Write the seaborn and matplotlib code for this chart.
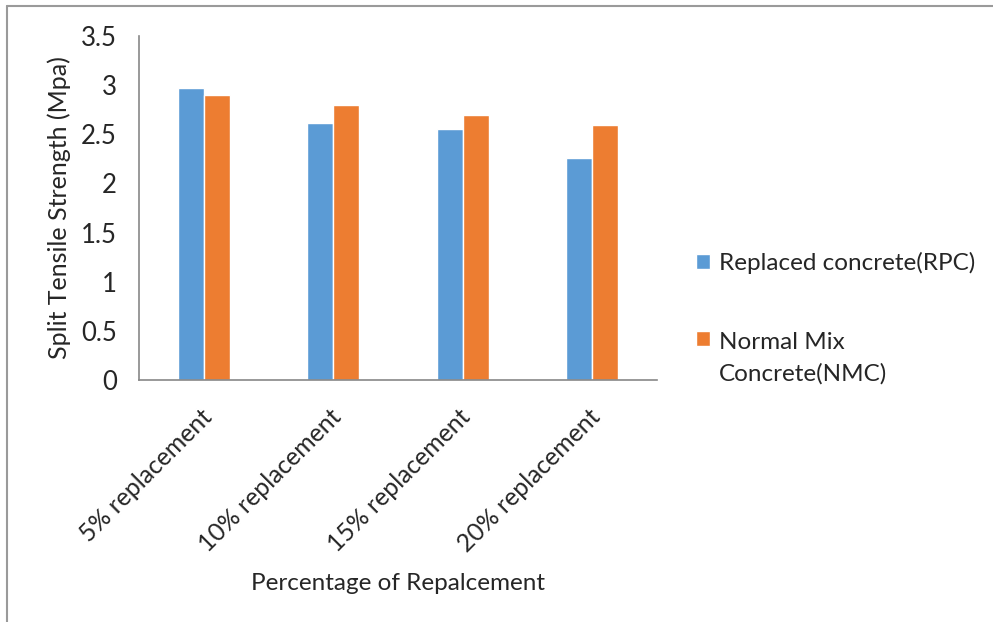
import matplotlib
matplotlib.use("Agg")
import matplotlib.pyplot as plt
import matplotlib.transforms as mtransforms
from matplotlib.lines import Line2D
import seaborn as sns
import pandas as pd

# data
categories = ["5% replacement", "10% replacement", "15% replacement", "20% replacement"]
rpc = [2.97, 2.62, 2.55, 2.26]
nmc = [2.90, 2.80, 2.70, 2.60]
series = ["Replaced concrete(RPC)", "Normal Mix\nConcrete(NMC)"]
yticks = [0, 0.5, 1, 1.5, 2, 2.5, 3, 3.5]
ytick_labels = ["0", "0.5", "1", "1.5", "2", "2.5", "3", "3.5"]

df = pd.DataFrame({
    "category": categories * 2,
    "value": rpc + nmc,
    "series": [series[0]] * 4 + [series[1]] * 4,
})

sns.set_style("white")
plt.rcParams["font.family"] = ["Lato", "DejaVu Sans"]

fig = plt.figure(figsize=(9.93, 6.22), dpi=100)
ax = fig.add_axes([0.140, 0.389, 0.5216, 0.553])

sns.barplot(data=df, x="category", y="value", hue="series",
            palette=["#5B9BD5", "#ED7D31"], width=0.4, saturation=1,
            ax=ax, legend=True)

ax.set_ylim(0, 3.5)
ax.set_yticks(yticks)
ax.set_yticklabels(ytick_labels)
ax.set_xlim(-0.5, 3.5)
ax.set_xticks(range(len(categories)))
ax.set_xticklabels(categories, rotation=45, ha="right", rotation_mode="anchor")
ax.tick_params(axis="y", direction="out", length=6, width=1, color="#888888",
               labelsize=18.5, pad=10)
ax.tick_params(axis="x", length=0, labelsize=17.8, pad=18)

# nudge rotated labels so their ends sit like the reference
offset = mtransforms.ScaledTranslation(-4 / 100, 0, fig.dpi_scale_trans)
for lbl in ax.get_xticklabels():
    lbl.set_transform(lbl.get_transform() + offset)

for s in ["top", "right"]:
    ax.spines[s].set_visible(False)
for s in ["left", "bottom"]:
    ax.spines[s].set_color("#888888")
    ax.spines[s].set_linewidth(1.2)

ax.set_xlabel("Percentage of Repalcement", fontsize=17.5)
ax.set_ylabel("Split Tensile Strength (Mpa)", fontsize=18)
ax.xaxis.set_label_coords(0.5, -0.56)
ax.yaxis.set_label_coords(-0.131, 0.5)

handles, labels = ax.get_legend_handles_labels()
ax.get_legend().remove()
leg = fig.legend(handles, labels, loc="upper left", bbox_to_anchor=(0.701, 0.595),
                 frameon=False, fontsize=17.5, handlelength=0.58, handleheight=0.58,
                 labelspacing=2.4, handletextpad=0.35, borderpad=0, borderaxespad=0)
for t in leg.get_texts():
    t.set_linespacing(1.55)
# keep the second square level with the first line of its label
h2 = leg.legend_handles[1]
h2.set_y(h2.get_y() + 14)

# frame lines on the left and top edge of the picture
fig.add_artist(Line2D([0.007, 0.007], [0.0, 0.9896], transform=fig.transFigure,
                      color="#9a9a9a", linewidth=1.5))
fig.add_artist(Line2D([0.007, 1.0], [0.9896, 0.9896], transform=fig.transFigure,
                      color="#9a9a9a", linewidth=1.5))

fig.savefig("out.png", dpi=100)
